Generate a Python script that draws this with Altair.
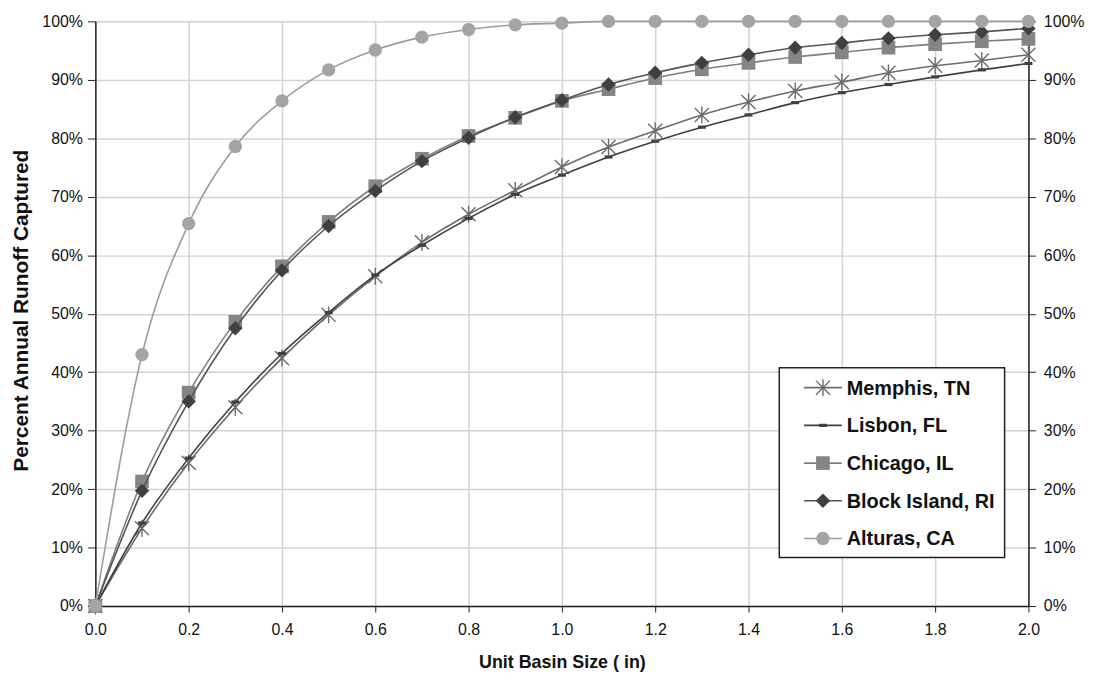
import altair as alt
import pandas as pd

x_vals = [round(i * 0.1, 1) for i in range(21)]

memphis = [0, 13.3, 24.5, 34.0, 42.4, 49.8, 56.4, 62.2, 67.0, 71.1, 75.1,
           78.5, 81.3, 84.0, 86.2, 88.1, 89.6, 91.2, 92.4, 93.3, 94.3]
lisbon = [0, 14.2, 25.3, 34.9, 43.2, 50.2, 56.6, 61.7, 66.3, 70.4, 73.7,
          76.8, 79.5, 81.9, 84.0, 86.1, 87.8, 89.2, 90.5, 91.7, 92.8]
chicago = [0, 21.3, 36.5, 48.6, 58.1, 65.7, 71.8, 76.5, 80.4, 83.5, 86.4,
           88.4, 90.3, 91.8, 92.9, 93.9, 94.7, 95.5, 96.1, 96.6, 97.0]
block_island = [0, 19.7, 35.0, 47.5, 57.4, 65.0, 71.0, 76.1, 80.1, 83.6, 86.5,
                89.2, 91.2, 92.9, 94.3, 95.5, 96.3, 97.1, 97.7, 98.2, 98.8]
alturas = [0, 43.0, 65.4, 78.6, 86.4, 91.7, 95.1, 97.3, 98.6, 99.4, 99.7,
           100, 100, 100, 100, 100, 100, 100, 100, 100, 100]

series_names = ["Memphis, TN", "Lisbon, FL", "Chicago, IL", "Block Island, RI", "Alturas, CA"]
series_values = [memphis, lisbon, chicago, block_island, alturas]
y_ticks = list(range(0, 101, 10))
x_ticks = [round(i * 0.2, 1) for i in range(11)]

STAR = "M-1,-1L1,1M-1,1L1,-1M0,-1.2L0,1.2"
DASH = "M-1,-0.4L1,-0.4L1,0.4L-1,0.4Z"

styles = {
    "Memphis, TN": dict(line="#6b6b6b", shape=STAR, fill=None, stroke="#6b6b6b", size=200, filled=False),
    "Lisbon, FL": dict(line="#3f3f3f", shape=DASH, fill="#3f3f3f", stroke=None, size=64, filled=True),
    "Chicago, IL": dict(line="#7f7f7f", shape="square", fill="#858585", stroke=None, size=190, filled=True),
    "Block Island, RI": dict(line="#555555", shape="diamond", fill="#404040", stroke=None, size=210, filled=True),
    "Alturas, CA": dict(line="#9c9c9c", shape="circle", fill="#a2a4a7", stroke=None, size=180, filled=True),
}

FONT = "Liberation Sans"
W, H = 940, 589

xscale = alt.Scale(domain=[0, 2], nice=False, zero=True)
yscale = alt.Scale(domain=[0, 100], nice=False)

x_axis = alt.Axis(values=x_ticks, format=".1f", labelFlush=False,
                  title="Unit Basin Size ( in)", grid=True, gridColor="#d3d3d3", gridWidth=1.5,
                  domain=True, domainColor="#222", domainWidth=1.5, tickColor="#222", tickSize=6,
                  labelPadding=10, labelFontSize=16, labelFont=FONT, labelColor="#111",
                  titleFont=FONT, titleFontSize=18, titleFontWeight="bold", titleColor="#111",
                  titleY=57, titleBaseline="middle")
y_axis_left = alt.Axis(values=y_ticks, labelExpr="datum.value + '%'", labelFlush=False,
                       title="Percent Annual Runoff Captured", grid=True, gridColor="#d3d3d3", gridWidth=1.5,
                       domain=True, domainColor="#222", domainWidth=1.5, tickColor="#222", tickSize=8,
                       labelPadding=5, labelFontSize=16, labelFont=FONT, labelColor="#111",
                       titleFont=FONT, titleFontSize=21, titleFontWeight="bold", titleColor="#111",
                       titleX=-74, titleY=291, titleAngle=-90, titleBaseline="middle", titleAlign="center")
y_axis_right = alt.Axis(values=y_ticks, labelExpr="datum.value + '%'", orient="right", labelFlush=False,
                        title=None, grid=False, domain=True, domainColor="#222", domainWidth=1.5,
                        tickColor="#222", tickSize=7, labelPadding=8, labelFontSize=16, labelFont=FONT,
                        labelColor="#111")


def point_kwargs(st):
    pkw = dict(shape=st["shape"], size=st["size"], filled=st["filled"], opacity=1)
    if st["filled"]:
        pkw["fill"] = st["fill"]
        pkw["strokeWidth"] = 0
    else:
        pkw["stroke"] = st["stroke"]
        pkw["strokeWidth"] = 1.4
    return pkw


layers = []
for i, (name, vals) in enumerate(zip(series_names, series_values)):
    df = pd.DataFrame({"x": x_vals, "y": vals, "series": name})
    st = styles[name]
    base = alt.Chart(df)
    line = base.mark_line(color=st["line"], strokeWidth=1.6, interpolate="monotone").encode(
        x=alt.X("x:Q", scale=xscale, axis=x_axis),
        y=alt.Y("y:Q", scale=yscale, axis=y_axis_left),
    )
    pts = base.mark_point(**point_kwargs(st)).encode(
        x=alt.X("x:Q", scale=xscale, axis=x_axis),
        y=alt.Y("y:Q", scale=yscale, axis=y_axis_left),
    )
    layers += [line, pts]

# legend
LX0, LX1, LY0, LY1 = 689, 916, 349, 540
legend_layers = [
    alt.Chart(pd.DataFrame({"a": [0]})).mark_rect(fill="white", stroke="#222", strokeWidth=1.5).encode(
        x=alt.value(LX0), x2=alt.value(LX1), y=alt.value(LY0), y2=alt.value(LY1))
]
for i, name in enumerate(series_names):
    st = styles[name]
    ry = 369 + i * 38
    d = pd.DataFrame({"series": [name]})
    legend_layers.append(alt.Chart(d).mark_rule(color=st["line"], strokeWidth=1.6).encode(
        x=alt.value(714), x2=alt.value(752), y=alt.value(ry)))
    legend_layers.append(alt.Chart(d).mark_point(**point_kwargs(st)).encode(
        x=alt.value(733), y=alt.value(ry)))
    legend_layers.append(alt.Chart(d).mark_text(align="left", baseline="middle", font=FONT, fontSize=20,
                                                fontWeight="bold", color="#111").encode(
        x=alt.value(757), y=alt.value(ry + 1), text="series:N"))

main = alt.layer(*layers, *legend_layers)

# right-hand mirror axis
right_df = pd.DataFrame({"y": [0, 100]})
right = alt.Chart(right_df).mark_point(opacity=0).encode(
    x=alt.value(0),
    y=alt.Y("y:Q", scale=yscale, axis=y_axis_right),
)

chart = alt.layer(main, right).resolve_axis(y="independent").properties(
    width=W, height=H,
    autosize=alt.AutoSizeParams(type="none"),
    padding={"left": 88, "top": 11, "right": 59, "bottom": 64},
).configure_view(stroke="#222", strokeWidth=1.5).configure(background="white")

chart.save("out.html", embed_options={"renderer": "svg", "actions": False})
